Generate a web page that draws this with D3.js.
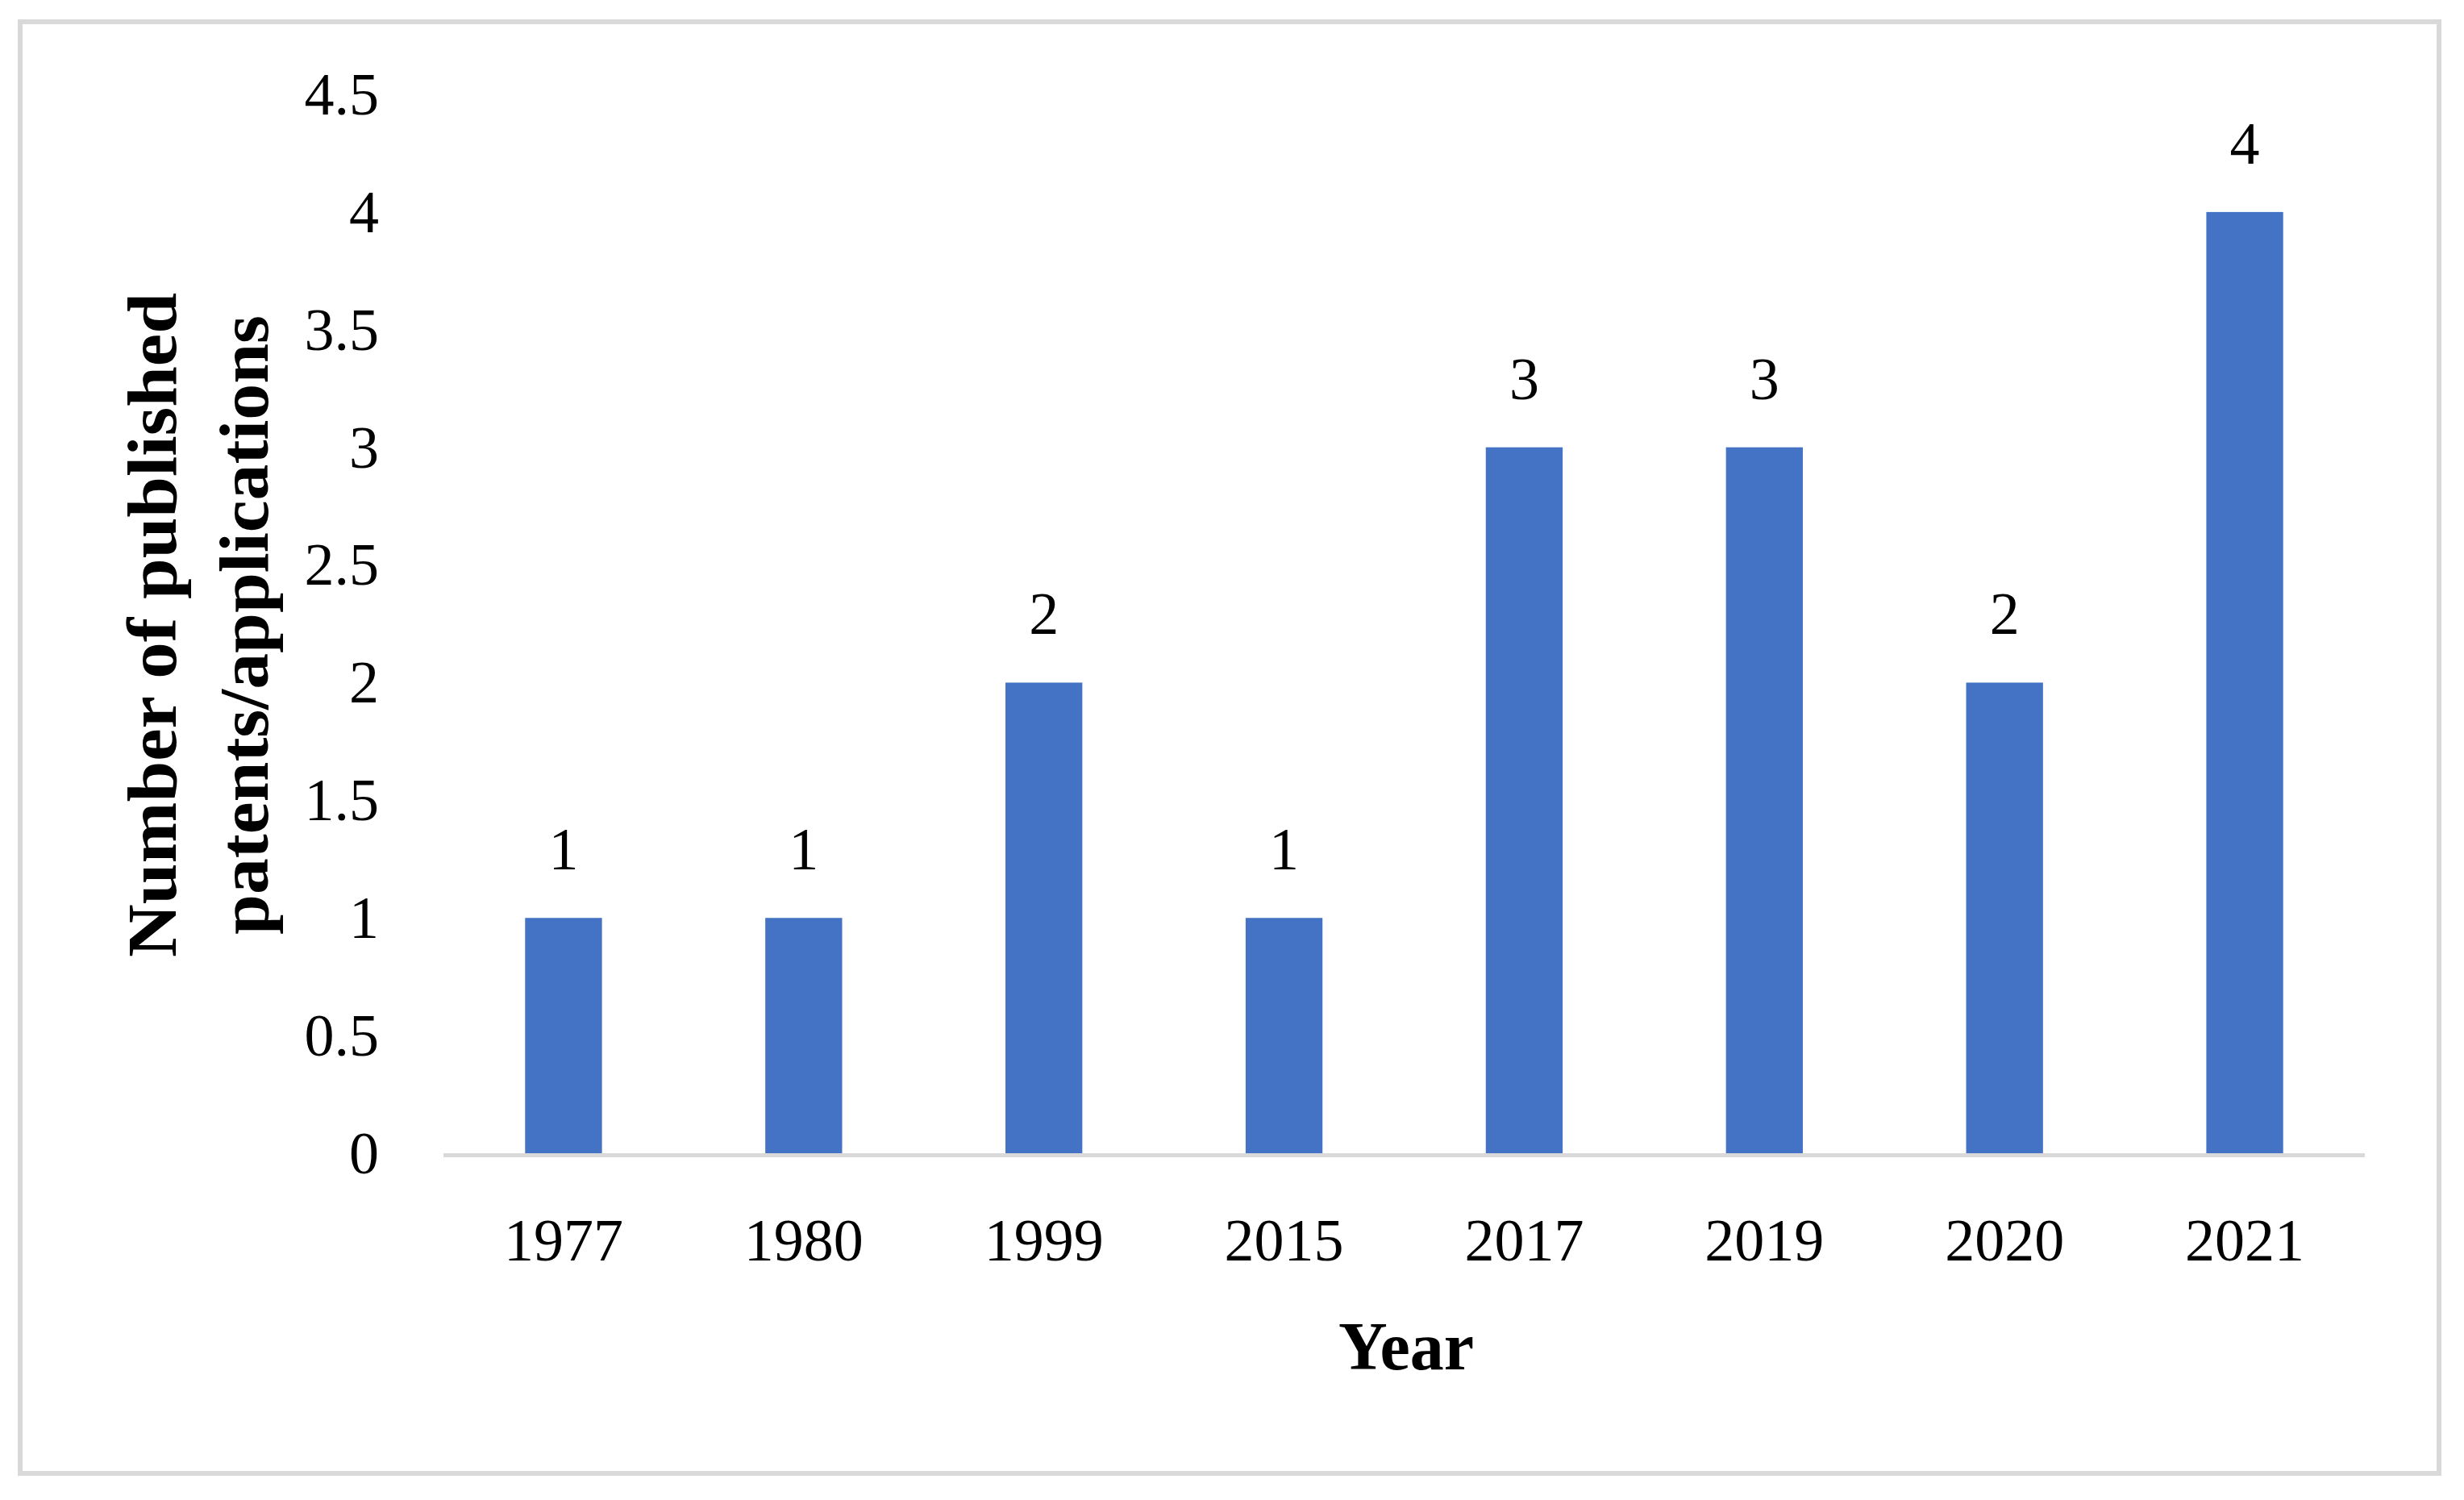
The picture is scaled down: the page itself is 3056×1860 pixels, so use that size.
<!DOCTYPE html>
<html>
<head>
<meta charset="utf-8">
<script src="https://cdn.jsdelivr.net/npm/d3@7"></script>
<style>
  html, body { margin: 0; padding: 0; background: #ffffff; }
  svg { display: block; }
  text { font-family: "Liberation Serif", "Times New Roman", serif; fill: #000; }
</style>
</head>
<body>
<script>
// ---- Data ----
const years = ["1977", "1980", "1999", "2015", "2017", "2019", "2020", "2021"];
const counts = [1, 1, 2, 1, 3, 3, 2, 4];
const yTicks = [0, 0.5, 1, 1.5, 2, 2.5, 3, 3.5, 4, 4.5];
const yTitleLines = ["Number of published", "patents/applications"];
const xTitle = "Year";

// ---- Layout ----
const W = 3056, H = 1860;
const svg = d3.select("body").append("svg").attr("width", W).attr("height", H);

svg.append("rect").attr("x", 0).attr("y", 0).attr("width", W).attr("height", H).attr("fill", "#fff");

// outer frame
svg.append("rect")
  .attr("x", 25).attr("y", 27).attr("width", 3000).attr("height", 1800)
  .attr("fill", "none").attr("stroke", "#d9d9d9").attr("stroke-width", 6);

const x = d3.scaleBand().domain(years).range([550, 2933]).paddingInner(0.68).paddingOuter(0.34);
const y = d3.scaleLinear().domain([0, 4.5]).range([1430, 117]);

// Y axis tick labels (no line, no ticks)
const yAxis = d3.axisLeft(y).tickValues(yTicks).tickSize(0).tickPadding(0).tickFormat(d3.format("~g"));
const gy = svg.append("g").attr("transform", "translate(470,0)").call(yAxis);
gy.select(".domain").remove();
gy.selectAll("text")
  .attr("font-family", "Liberation Serif, serif")
  .attr("font-size", 74)
  .attr("fill", "#000")
  .attr("x", 0)
  .attr("dy", "0.33em");

// baseline axis line
svg.append("line")
  .attr("x1", 550).attr("x2", 2933)
  .attr("y1", y(0) + 2.5).attr("y2", y(0) + 2.5)
  .attr("stroke", "#d9d9d9").attr("stroke-width", 5);

// X axis tick labels
const xAxis = d3.axisBottom(x).tickSize(0).tickPadding(0);
const gx = svg.append("g").attr("transform", "translate(0,1563)").call(xAxis);
gx.select(".domain").remove();
gx.selectAll("text")
  .attr("font-family", "Liberation Serif, serif")
  .attr("font-size", 74)
  .attr("fill", "#000")
  .attr("y", 0)
  .attr("dy", 0);

// Bars
svg.append("g").selectAll("rect")
  .data(years.map((yr, i) => ({ yr, v: counts[i] })))
  .join("rect")
  .attr("x", d => x(d.yr))
  .attr("width", x.bandwidth())
  .attr("y", d => y(d.v))
  .attr("height", d => y(0) - y(d.v))
  .attr("fill", "#4472C4");

// Data labels
svg.append("g").selectAll("text")
  .data(years.map((yr, i) => ({ yr, v: counts[i] })))
  .join("text")
  .attr("x", d => x(d.yr) + x.bandwidth() / 2)
  .attr("y", d => y(d.v) - 60)
  .attr("text-anchor", "middle")
  .attr("font-size", 74)
  .text(d => d.v);

// Y axis title (two lines, rotated)
const yTitle = svg.append("g").attr("transform", "translate(0,775) rotate(-90)");
yTitleLines.forEach((line, i) => {
  yTitle.append("text")
    .attr("x", 0)
    .attr("y", 218 + i * 114)
    .attr("text-anchor", "middle")
    .attr("font-weight", "bold")
    .attr("font-size", 86)
    .attr("textLength", i === 0 ? 824 : 768)
    .attr("lengthAdjust", "spacingAndGlyphs")
    .text(line);
});

// X axis title
svg.append("text")
  .attr("x", 1744)
  .attr("y", 1698)
  .attr("text-anchor", "middle")
  .attr("font-weight", "bold")
  .attr("font-size", 84)
  .text(xTitle);
</script>
</body>
</html>
